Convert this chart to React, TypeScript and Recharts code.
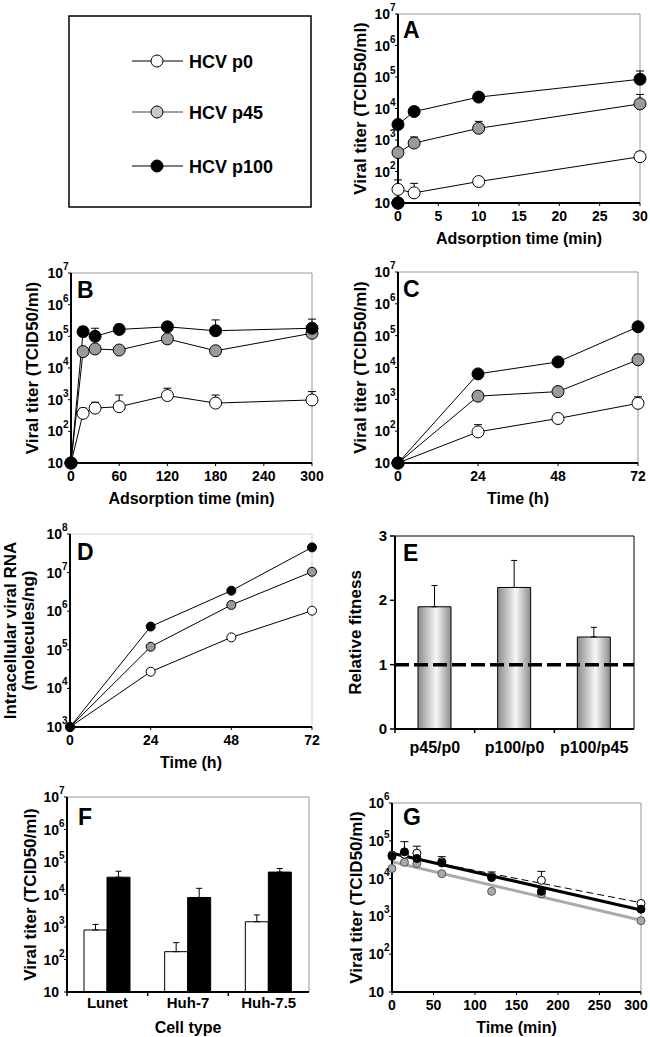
import React from 'react';
import {
  LineChart, Line, XAxis, YAxis, ErrorBar, ReferenceArea, ReferenceLine,
  BarChart, Bar, Label,
} from 'recharts';

const FONT = '"Liberation Sans", Arial, Helvetica, sans-serif';

// ---------- legend ----------
const seriesNames = ['HCV p0', 'HCV p45', 'HCV p100'];

// ---------- panel A ----------
const aTime = [0, 0, 2, 10, 30];
const aP0 = [10, 27, 21, 48, 295];
const aP0Top = [null, 54, 42, null, 420];
const aP45 = [10, 400, 800, 2350, 14000];
const aP45Top = [null, null, 1250, 3900, 28000];
const aP100 = [10, 3100, 8000, 23000, 85000];
const aP100Top = [null, null, 10000, null, 155000];
const aTicks = [0, 5, 10, 15, 20, 25, 30];

// ---------- panel B ----------
const bTime = [0, 15, 30, 60, 120, 180, 300];
const bP0 = [10, 370, 540, 600, 1350, 780, 980];
const bP0Top = [null, 540, 830, 1400, 2300, 1400, 1800];
const bP45 = [10, 33000, 40000, 37000, 83000, 35000, 125000];
const bP45Top = [null, null, null, null, null, null, null];
const bP100 = [10, 140000, 100000, 165000, 200000, 150000, 180000];
const bP100Top = [null, 200000, 180000, 240000, null, 330000, 350000];
const bTicks = [0, 60, 120, 180, 240, 300];

// ---------- panel C ----------
const cTime = [0, 24, 48, 72];
const cP0 = [10, 95, 250, 750];
const cP0Top = [null, 160, null, 1200];
const cP45 = [10, 1260, 1750, 17500];
const cP45Top = [null, null, null, 26000];
const cP100 = [10, 6300, 15000, 190000];
const cP100Top = [null, 8300, null, 240000];
const hourTicks = [0, 24, 48, 72];

// ---------- panel D ----------
const dTime = [0, 24, 48, 72];
const dP0 = [1000, 27000, 210000, 1030000];
const dP45 = [1000, 120000, 1450000, 10500000];
const dP100 = [1000, 400000, 3400000, 45000000];

// ---------- panel E ----------
const eCats = ['p45/p0', 'p100/p0', 'p100/p45'];
const eFitness = [1.9, 2.2, 1.43];
const eFitnessTop = [2.23, 2.62, 1.58];
const eTicks = [0, 1, 2, 3];

// ---------- panel F ----------
const fCells = ['Lunet', 'Huh-7', 'Huh-7.5'];
const fP0 = [810, 174, 1450];
const fP0Top = [1200, 330, 2350];
const fP100 = [34000, 8100, 49000];
const fP100Top = [52000, 15500, 63000];

// ---------- panel G ----------
const gTime = [0, 15, 30, 60, 120, 180, 300];
const gP0 = [42000, 44000, 47000, 28000, 11500, 9000, 2200];
const gP0Top = [null, null, 72000, null, null, 15500, null];
const gP45 = [18500, 27000, 25000, 13500, 4600, 3900, 770];
const gP100 = [39000, 51000, 34000, 26000, 10700, 4600, 1550];
const gP100Top = [null, 95000, null, 38000, 15000, null, null];
const gFitTime = [0, 300];
const gFitP0 = [44000, 2300];
const gFitP45 = [28000, 790];
const gFitP100 = [47000, 1480];
const gTicks = [0, 50, 100, 150, 200, 250, 300];

const LOG_1_7 = [10, 100, 1e3, 1e4, 1e5, 1e6, 1e7];
const LOG_3_8 = [1e3, 1e4, 1e5, 1e6, 1e7, 1e8];
const LOG_1_6 = [10, 100, 1e3, 1e4, 1e5, 1e6];

const pts = (xs: number[], ys: number[], tops?: (number | null)[]) =>
  xs.map((x, i) => ({
    x,
    y: ys[i],
    e: tops && tops[i] != null ? [0, (tops[i] as number) - ys[i]] : null,
  }));

// ---------- custom pieces ----------
const LogTick = (props: any) => {
  const { x, y, payload } = props;
  const exp = Math.round(Math.log10(payload.value));
  return (
    <g>
      <text x={x - 3} y={y + 5} textAnchor="end" fontSize={14} fontWeight="bold" fontFamily={FONT} fill="#000">10</text>
      {exp !== 1 && (
        <text x={x - 3} y={y - 3} textAnchor="start" fontSize={10} fontWeight="bold" fontFamily={FONT} fill="#000">{exp}</text>
      )}
    </g>
  );
};

const NumTick = (props: any) => {
  const { x, y, payload } = props;
  return (
    <text x={x} y={y + 5} textAnchor="end" fontSize={15} fontWeight="bold" fontFamily={FONT} fill="#000">
      {payload.value}
    </text>
  );
};

const XTick = (props: any) => {
  const { x, y, payload, dy = 13, fs = 14, lastShift = 0, index, visibleTicksCount } = props;
  const shift = index === visibleTicksCount - 1 ? lastShift : 0;
  return (
    <text x={x + shift} y={y + dy} textAnchor="middle" fontSize={fs} fontWeight="bold" fontFamily={FONT} fill="#000">
      {payload.value}
    </text>
  );
};

const CatTick = (props: any) => {
  const { x, y, payload, dy = 13, fs = 15 } = props;
  const half = payload && payload.offset != null ? payload.offset : 0;
  return (
    <g>
      {half > 0 && <line x1={x - half} x2={x - half} y1={y - 6} y2={y - 2} stroke="#000" strokeWidth={1.5} />}
      <text x={x} y={y + dy} textAnchor="middle" fontSize={fs} fontWeight="bold" fontFamily={FONT} fill="#000">
        {payload.value}
      </text>
    </g>
  );
};

const XTitle = (props: any) => {
  const { viewBox, text, dy = 41 } = props;
  if (!viewBox) return null;
  return (
    <text x={viewBox.x + viewBox.width / 2} y={viewBox.y + dy} textAnchor="middle" fontSize={16} fontWeight="bold" fontFamily={FONT} fill="#000">
      {text}
    </text>
  );
};

const YTitle = (props: any) => {
  const { viewBox, lines, dxs } = props;
  if (!viewBox) return null;
  const cy = viewBox.y + viewBox.height / 2;
  return (
    <g>
      {lines.map((l: string, i: number) => {
        const cx = viewBox.x + dxs[i];
        return (
          <text key={i} x={cx} y={cy} transform={`rotate(-90 ${cx} ${cy})`} textAnchor="middle" dominantBaseline="central" fontSize={17} fontWeight="bold" fontFamily={FONT} fill="#000">
            {l}
          </text>
        );
      })}
    </g>
  );
};

const Letter = (props: any) => {
  const { viewBox, text, dx, dy } = props;
  if (!viewBox) return null;
  return (
    <text x={viewBox.x + viewBox.width + dx} y={viewBox.y + dy} fontSize={23} fontWeight="bold" fontFamily={FONT} fill="#000">
      {text}
    </text>
  );
};

const axisLine = { stroke: '#000', strokeWidth: 2 };

type SeriesCfg = {
  data: any[];
  fill?: string;
  r?: number;
  dotStroke?: string;
  stroke?: string;
  strokeWidth?: number;
  dash?: string;
  noDot?: boolean;
};

type PanelCfg = {
  left: number; top: number; width: number; height: number;
  margin: { top: number; right: number; bottom: number; left: number };
  xDomain: [number, number]; xTicks: number[];
  yDomain: [number, number]; yTicks: number[];
  series: SeriesCfg[];
  xTitle: string; yTitle: string[]; yTitleDx: number[];
  letter: string; letterDx: number; letterDy: number;
  frame: string;
  lastShift?: number;
};

const LinePanel = (p: PanelCfg) => (
  <div style={{ position: 'absolute', left: p.left, top: p.top, width: p.width, height: p.height }}>
    <LineChart width={p.width} height={p.height} margin={p.margin}>
      <XAxis
        type="number" dataKey="x" domain={p.xDomain} ticks={p.xTicks} interval={0}
        height={45} tickSize={3} tickMargin={3} tickLine={{ stroke: '#000' }} axisLine={axisLine}
        tick={<XTick dy={12} lastShift={p.lastShift ?? 0} />}
      >
        <Label content={<XTitle text={p.xTitle} dy={41} />} />
      </XAxis>
      <YAxis
        type="number" scale="log" domain={p.yDomain} ticks={p.yTicks} interval={0}
        width={45} tickSize={3} tickMargin={2} tickLine={{ stroke: '#000' }} axisLine={axisLine}
        tick={<LogTick />}
      >
        <Label content={<YTitle lines={p.yTitle} dxs={p.yTitleDx} />} />
        <Label content={<Letter text={p.letter} dx={p.letterDx} dy={p.letterDy} />} />
      </YAxis>
      <ReferenceArea x1={p.xDomain[0]} x2={p.xDomain[1]} y1={p.yDomain[0]} y2={p.yDomain[1]} fill="none" stroke={p.frame} strokeWidth={1} />
      {p.series.map((s, i) => (
        <Line
          key={i}
          data={s.data}
          dataKey="y"
          stroke={s.stroke ?? '#000'}
          strokeWidth={s.strokeWidth ?? 1}
          strokeDasharray={s.dash}
          dot={s.noDot ? false : { r: s.r ?? 6, fill: s.fill, stroke: s.dotStroke ?? '#000', strokeWidth: 1 }}
          activeDot={false}
          isAnimationActive={false}
        >
          {!s.noDot && <ErrorBar dataKey="e" width={4} stroke="#000" strokeWidth={1} direction="y" />}
        </Line>
      ))}
    </LineChart>
  </div>
);

const GRAY = '#9a9a9a';

const Legend = () => (
  <svg width={330} height={215} style={{ position: 'absolute', left: 0, top: 0 }}>
    <rect x={69} y={16} width={242} height={191} fill="#fff" stroke="#000" strokeWidth={1.5} />
    {seriesNames.map((n, i) => {
      const cy = [61, 112, 166][i];
      const fill = ['#fff', '#c8c8c8', '#000'][i];
      return (
        <g key={n}>
          <line x1={132} x2={183} y1={cy} y2={cy} stroke={i === 1 ? '#444' : '#000'} strokeWidth={1.2} />
          <circle cx={157} cy={cy} r={6} fill={fill} stroke="#000" strokeWidth={1} />
          <text x={189} y={cy + 6.5} fontSize={18} fontWeight="bold" fontFamily={FONT} fill="#000">{n}</text>
        </g>
      );
    })}
  </svg>
);

const eData = eCats.map((c, i) => ({ cat: c, v: eFitness[i], e: [0, eFitnessTop[i] - eFitness[i]] }));
const fData = fCells.map((c, i) => ({
  cat: c,
  p0: fP0[i], p0e: [0, fP0Top[i] - fP0[i]],
  p100: fP100[i], p100e: [0, fP100Top[i] - fP100[i]],
}));

export default function App() {
  return (
    <div style={{ position: 'absolute', left: 0, top: 0, width: 650, height: 1037, background: '#fff', fontFamily: FONT, overflow: 'hidden' }}>
      <Legend />

      <LinePanel
        left={330} top={0} width={320} height={250}
        margin={{ top: 14, right: 10, bottom: 2, left: 23 }}
        xDomain={[0, 30]} xTicks={aTicks} yDomain={[10, 1e7]} yTicks={LOG_1_7}
        series={[
          { data: pts(aTime, aP0, aP0Top), fill: '#fff' },
          { data: pts(aTime, aP45, aP45Top), fill: GRAY },
          { data: pts(aTime, aP100, aP100Top), fill: '#000' },
        ]}
        xTitle="Adsorption time (min)" yTitle={['Viral titer (TCID50/ml)']} yTitleDx={[7]}
        letter="A" letterDx={5} letterDy={24} frame="#999"
      />

      <LinePanel
        left={0} top={250} width={330} height={270}
        margin={{ top: 23, right: 18, bottom: 12, left: 26 }}
        xDomain={[0, 300]} xTicks={bTicks} yDomain={[10, 1e7]} yTicks={LOG_1_7}
        series={[
          { data: pts(bTime, bP0, bP0Top), fill: '#fff' },
          { data: pts(bTime, bP45, bP45Top), fill: GRAY },
          { data: pts(bTime, bP100, bP100Top), fill: '#000' },
        ]}
        xTitle="Adsorption time (min)" yTitle={['Viral titer (TCID50/ml)']} yTitleDx={[6]}
        letter="B" letterDx={6} letterDy={25} frame="#999"
      />

      <LinePanel
        left={330} top={250} width={320} height={270}
        margin={{ top: 22, right: 12, bottom: 12, left: 23 }}
        xDomain={[0, 72]} xTicks={hourTicks} yDomain={[10, 1e7]} yTicks={LOG_1_7}
        series={[
          { data: pts(cTime, cP0, cP0Top), fill: '#fff' },
          { data: pts(cTime, cP45, cP45Top), fill: GRAY },
          { data: pts(cTime, cP100, cP100Top), fill: '#000' },
        ]}
        xTitle="Time (h)" yTitle={['Viral titer (TCID50/ml)']} yTitleDx={[7]}
        letter="C" letterDx={5} letterDy={25} frame="#999"
      />

      <LinePanel
        left={0} top={520} width={330} height={260}
        margin={{ top: 14, right: 18, bottom: 8, left: 25 }}
        xDomain={[0, 72]} xTicks={hourTicks} yDomain={[1e3, 1e8]} yTicks={LOG_3_8}
        series={[
          { data: pts(dTime, dP0), fill: '#fff', r: 4.5 },
          { data: pts(dTime, dP45), fill: GRAY, r: 4.5 },
          { data: pts(dTime, dP100), fill: '#000', r: 4.5 },
        ]}
        xTitle="Time (h)" yTitle={['Intracellular viral RNA', '(molecules/ng)']} yTitleDx={[-15, 3]}
        letter="D" letterDx={7} letterDy={26} frame="#d0d0d0"
      />

      {/* Panel E */}
      <div style={{ position: 'absolute', left: 330, top: 520, width: 320, height: 260 }}>
        <BarChart width={320} height={260} data={eData} margin={{ top: 16, right: 16, bottom: 6, left: 20 }}>
          <defs>
            <linearGradient id="eGrad" x1="0" y1="0" x2="1" y2="0">
              <stop offset="0%" stopColor="#8c8c8c" />
              <stop offset="55%" stopColor="#f7f7f7" />
              <stop offset="100%" stopColor="#8c8c8c" />
            </linearGradient>
          </defs>
          <XAxis dataKey="cat" interval={0} height={45} tickSize={4} tickMargin={2} tickLine={false} axisLine={axisLine}
            tick={<CatTick dy={18} fs={16} />} />
          <YAxis type="number" domain={[0, 3]} ticks={eTicks} interval={0} width={45} tickSize={5} tickMargin={3}
            tickLine={{ stroke: '#000', strokeWidth: 1.5 }} axisLine={axisLine} tick={<NumTick />}>
            <Label content={<YTitle lines={['Relative fitness']} dxs={[5]} />} />
            <Label content={<Letter text="E" dx={8} dy={25} />} />
          </YAxis>
          <ReferenceArea x1={eCats[0]} x2={eCats[2]} y1={0} y2={3} fill="none" stroke="#000" strokeWidth={1} />
          <Bar dataKey="v" barSize={33} fill="url(#eGrad)" stroke="#000" strokeWidth={1} isAnimationActive={false}>
            <ErrorBar dataKey="e" width={3} stroke="#000" strokeWidth={1} direction="y" />
          </Bar>
          <ReferenceLine y={1} stroke="#000" strokeWidth={3.5} strokeDasharray="14 5" />
        </BarChart>
      </div>

      {/* Panel F */}
      <div style={{ position: 'absolute', left: 0, top: 780, width: 330, height: 257 }}>
        <BarChart width={330} height={257} data={fData} barGap={0} margin={{ top: 17, right: 21, bottom: 0, left: 22 }}>
          <XAxis dataKey="cat" interval={0} height={45} tickSize={4} tickMargin={2} tickLine={false} axisLine={axisLine}
            tick={<CatTick dy={10} fs={15} />}>
            <Label content={<XTitle text="Cell type" dy={41} />} />
          </XAxis>
          <YAxis type="number" scale="log" domain={[10, 1e7]} ticks={LOG_1_7} interval={0} width={45} tickSize={3} tickMargin={2}
            tickLine={{ stroke: '#000' }} axisLine={axisLine} tick={<LogTick />}>
            <Label content={<YTitle lines={['Viral titer (TCID50/ml)']} dxs={[8]} />} />
            <Label content={<Letter text="F" dx={11} dy={28} />} />
          </YAxis>
          <ReferenceArea x1={fCells[0]} x2={fCells[2]} y1={10} y2={1e7} fill="none" stroke="#999" strokeWidth={1} />
          <Bar dataKey="p0" barSize={23} fill="#fff" stroke="#000" strokeWidth={1} isAnimationActive={false}>
            <ErrorBar dataKey="p0e" width={3} stroke="#000" strokeWidth={1} direction="y" />
          </Bar>
          <Bar dataKey="p100" barSize={23} fill="#000" stroke="#000" strokeWidth={1} isAnimationActive={false}>
            <ErrorBar dataKey="p100e" width={3} stroke="#000" strokeWidth={1} direction="y" />
          </Bar>
        </BarChart>
      </div>

      <LinePanel
        left={330} top={780} width={320} height={257}
        margin={{ top: 23, right: 9, bottom: 0, left: 17 }}
        xDomain={[0, 300]} xTicks={gTicks} yDomain={[10, 1e6]} yTicks={LOG_1_6}
        series={[
          { data: pts(gFitTime, gFitP45), stroke: '#aaaaaa', strokeWidth: 3, noDot: true },
          { data: pts(gFitTime, gFitP100), stroke: '#000', strokeWidth: 3, noDot: true },
          { data: pts(gFitTime, gFitP0), stroke: '#000', strokeWidth: 1, dash: '7 4', noDot: true },
          { data: pts(gTime, gP45), fill: '#aaaaaa', dotStroke: '#555', r: 4, stroke: 'none' },
          { data: pts(gTime, gP0, gP0Top), fill: '#fff', r: 4, stroke: 'none' },
          { data: pts(gTime, gP100, gP100Top), fill: '#000', r: 4, stroke: 'none' },
        ]}
        xTitle="Time (min)" yTitle={['Viral titer (TCID50/ml)']} yTitleDx={[9]}
        letter="G" letterDx={11} letterDy={22} frame="#999" lastShift={-5}
      />
    </div>
  );
}
